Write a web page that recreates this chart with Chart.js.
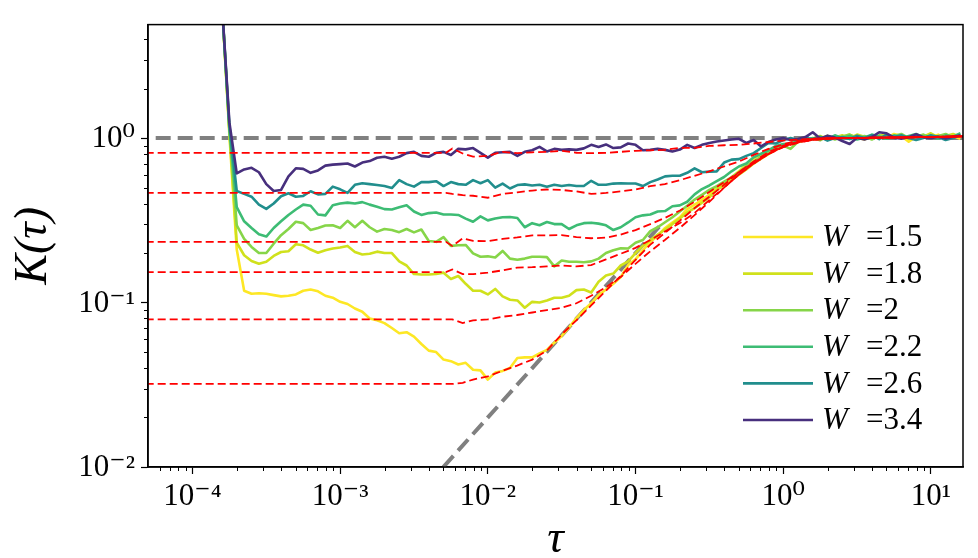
<!DOCTYPE html>
<html>
<head>
<meta charset="utf-8">
<script src="https://cdn.jsdelivr.net/npm/chart.js@4.4.1/dist/chart.umd.min.js"></script>
<style>
  html, body { margin: 0; padding: 0; background: #fff; }
</style>
</head>
<body>
<canvas id="kChart" width="978" height="558"></canvas>
<script>
// tau grid shared by the six K(tau) curves
const tau = [
  1.585e-4, 1.778e-4, 1.995e-4, 2.239e-4, 2.512e-4, 2.818e-4, 3.162e-4, 3.548e-4, 3.981e-4, 4.467e-4,
  5.012e-4, 5.623e-4, 6.310e-4, 7.079e-4, 7.943e-4, 8.913e-4, 1.000e-3, 1.122e-3, 1.259e-3, 1.413e-3,
  1.585e-3, 1.778e-3, 1.995e-3, 2.239e-3, 2.512e-3, 2.818e-3, 3.162e-3, 3.548e-3, 3.981e-3, 4.467e-3,
  5.012e-3, 5.623e-3, 6.310e-3, 7.079e-3, 7.943e-3, 8.913e-3, 1.000e-2, 1.122e-2, 1.259e-2, 1.413e-2,
  1.585e-2, 1.778e-2, 1.995e-2, 2.239e-2, 2.512e-2, 2.818e-2, 3.162e-2, 3.548e-2, 3.981e-2, 4.467e-2,
  5.012e-2, 5.623e-2, 6.310e-2, 7.079e-2, 7.943e-2, 8.913e-2, 1.000e-1, 1.122e-1, 1.259e-1, 1.413e-1,
  1.585e-1, 1.778e-1, 1.995e-1, 2.239e-1, 2.512e-1, 2.818e-1, 3.162e-1, 3.548e-1, 3.981e-1, 4.467e-1,
  5.012e-1, 5.623e-1, 6.310e-1, 7.079e-1, 7.943e-1, 8.913e-1, 1.000, 1.122, 1.259, 1.413,
  1.585, 1.778, 1.995, 2.239, 2.512, 2.818, 3.162, 3.548, 3.981, 4.467,
  5.012, 5.623, 6.310, 7.079, 7.943, 8.913, 10.00, 11.22, 12.59, 14.13,
  15.85
];

const kW15 = [
  6.5, 1.05, 0.21, 0.118, 0.113, 0.114, 0.113, 0.111, 0.109, 0.11,
  0.112, 0.118, 0.12, 0.117, 0.11, 0.107, 0.101, 0.098, 0.092, 0.088,
  0.08, 0.078, 0.075, 0.070, 0.065, 0.066, 0.062, 0.056, 0.051, 0.050,
  0.045, 0.044, 0.042, 0.043, 0.039, 0.0387, 0.034, 0.0375, 0.0384, 0.040,
  0.046, 0.0464, 0.0464, 0.049, 0.0515, 0.057, 0.0626, 0.0706, 0.0805, 0.09,
  0.099, 0.111, 0.12, 0.13, 0.143, 0.169, 0.183, 0.208, 0.234, 0.254,
  0.284, 0.307, 0.33, 0.37, 0.394, 0.422, 0.452, 0.497, 0.525, 0.578,
  0.628, 0.695, 0.75, 0.798, 0.837, 0.872, 0.91, 0.927, 0.947, 0.973,
  0.986, 1.0, 1.03, 0.99, 1.02, 1.05, 1.01, 0.98, 1.04, 1.02,
  1.0, 1.06, 1.03, 0.95, 1.02, 1.04, 1.01, 1.05, 1.0, 1.03,
  0.99
];
const kW18 = [
  6.5, 1.1, 0.231, 0.194, 0.179, 0.172, 0.177, 0.192, 0.203, 0.205,
  0.226, 0.223, 0.21, 0.201, 0.208, 0.213, 0.216, 0.221, 0.203, 0.196,
  0.198, 0.204, 0.20, 0.20, 0.178, 0.168, 0.149, 0.148, 0.148, 0.149,
  0.152, 0.139, 0.145, 0.13, 0.118, 0.118, 0.112, 0.121, 0.109, 0.104,
  0.103, 0.093, 0.101, 0.10, 0.103, 0.107, 0.107, 0.11, 0.119, 0.12,
  0.115, 0.134, 0.146, 0.15, 0.168, 0.178, 0.20, 0.221, 0.24, 0.259,
  0.278, 0.30, 0.325, 0.353, 0.375, 0.405, 0.437, 0.484, 0.518, 0.558,
  0.60, 0.645, 0.70, 0.75, 0.80, 0.85, 0.89, 0.93, 0.95, 0.975,
  0.99, 1.03, 0.98, 1.01, 1.04, 1.0, 1.05, 1.02, 0.99, 1.03,
  1.06, 1.01, 1.03, 0.99, 1.04, 1.02, 1.07, 1.01, 1.03, 1.06,
  1.02
];
const kW20 = [
  6.5, 1.12, 0.295, 0.244, 0.218, 0.20, 0.20, 0.228, 0.257, 0.28,
  0.31, 0.304, 0.276, 0.284, 0.294, 0.295, 0.284, 0.314, 0.287, 0.314,
  0.287, 0.27, 0.28, 0.276, 0.268, 0.28, 0.267, 0.278, 0.237, 0.234,
  0.25, 0.221, 0.223, 0.224, 0.199, 0.19, 0.191, 0.188, 0.206, 0.185,
  0.182, 0.185, 0.19, 0.19, 0.189, 0.166, 0.18, 0.177, 0.177, 0.176,
  0.178, 0.185, 0.20, 0.208, 0.214, 0.213, 0.231, 0.24, 0.272, 0.287,
  0.308, 0.33, 0.358, 0.388, 0.423, 0.452, 0.484, 0.511, 0.544, 0.578,
  0.619, 0.672, 0.719, 0.77, 0.82, 0.87, 0.90, 0.86, 0.95, 0.97,
  1.0, 0.97, 1.03, 0.98, 1.02, 1.05, 1.0, 1.03, 0.98, 1.04,
  1.01, 1.03, 1.06, 1.0, 1.02, 1.05, 1.0, 1.03, 1.06, 1.01,
  1.05
];
const kW22 = [
  6.5, 1.15, 0.38, 0.312, 0.284, 0.26, 0.252, 0.284, 0.312, 0.341,
  0.368, 0.394, 0.388, 0.343, 0.339, 0.39, 0.40, 0.405, 0.40, 0.408,
  0.394, 0.383, 0.37, 0.368, 0.38, 0.39, 0.358, 0.341, 0.35, 0.353,
  0.343, 0.343, 0.341, 0.324, 0.31, 0.334, 0.316, 0.324, 0.33, 0.331,
  0.327, 0.287, 0.304, 0.295, 0.309, 0.30, 0.30, 0.28, 0.295, 0.304,
  0.306, 0.302, 0.295, 0.276, 0.287, 0.307, 0.33, 0.339, 0.343, 0.358,
  0.36, 0.385, 0.39, 0.41, 0.455, 0.49, 0.515, 0.547, 0.58, 0.628,
  0.672, 0.70, 0.765, 0.803, 0.843, 0.896, 0.921, 0.927, 0.96, 0.973,
  0.993, 1.02, 0.99, 1.04, 1.0, 1.03, 0.98, 1.01, 1.05, 1.02,
  0.99, 1.04, 1.0, 1.03, 1.06, 1.01, 1.03, 0.99, 1.04, 1.02,
  1.07
];
const kW26 = [
  6.5, 1.2, 0.477, 0.458, 0.44, 0.394, 0.371, 0.40, 0.443, 0.462,
  0.44, 0.445, 0.475, 0.455, 0.458, 0.507, 0.488, 0.464, 0.52, 0.532,
  0.525, 0.518, 0.511, 0.497, 0.555, 0.525, 0.507, 0.54, 0.54, 0.547,
  0.511, 0.54, 0.525, 0.52, 0.555, 0.532, 0.555, 0.50, 0.529, 0.494,
  0.518, 0.523, 0.515, 0.52, 0.506, 0.52, 0.511, 0.518, 0.511, 0.511,
  0.55, 0.52, 0.52, 0.529, 0.532, 0.53, 0.53, 0.511, 0.54, 0.56,
  0.585, 0.59, 0.59, 0.615, 0.655, 0.62, 0.625, 0.628, 0.71, 0.74,
  0.745, 0.78, 0.81, 0.87, 0.934, 0.927, 0.973, 1.0, 0.973, 1.0,
  0.986, 1.014, 0.966, 1.0, 1.014, 0.986, 1.035, 1.0, 1.042, 0.986,
  1.049, 1.014, 1.042, 1.0, 0.973, 1.0, 1.042, 1.014, 0.973, 1.0,
  1.042
];
const kW34 = [
  6.5, 1.25, 0.61, 0.645, 0.66, 0.62, 0.525, 0.477, 0.484, 0.586,
  0.655, 0.65, 0.615, 0.636, 0.68, 0.69, 0.695, 0.70, 0.672, 0.71,
  0.725, 0.76, 0.77, 0.75, 0.77, 0.81, 0.825, 0.78, 0.77, 0.814,
  0.825, 0.79, 0.86, 0.854, 0.87, 0.814, 0.76, 0.814, 0.82, 0.825,
  0.78, 0.825, 0.843, 0.884, 0.83, 0.86, 0.848, 0.854, 0.848, 0.866,
  0.91, 0.884, 0.915, 0.87, 0.878, 0.927, 0.91, 0.843, 0.848, 0.86,
  0.848, 0.83, 0.852, 0.91, 0.87, 0.91, 0.934, 0.953, 0.966, 0.98,
  0.99, 0.934, 0.973, 0.89, 0.947, 0.98, 1.0, 0.973, 0.986, 1.014,
  1.086, 0.993, 1.035, 1.007, 0.96, 0.92, 1.004, 0.98, 1.014, 1.086,
  1.07, 1.007, 0.99, 1.014, 1.056, 1.014, 1.0, 1.02, 0.993, 1.02,
  1.037
];

// tau grid of the red dashed fits
const fitTau = [
  4e-5, 5.2e-3, 5.75e-3, 6.76e-3, 7.94e-3, 1.0e-2, 1.26e-2, 1.58e-2, 2.0e-2, 2.51e-2,
  3.16e-2, 3.98e-2, 5.01e-2, 6.31e-2, 7.94e-2, 0.1, 0.126, 0.158, 0.2, 0.251,
  0.316, 0.398, 0.501, 0.631, 0.794, 1.0, 1.26, 1.58, 2.0, 2.51,
  3.98, 6.31, 10, 16.5
];
const fitW15 = [
  0.032, 0.032, 0.032, 0.0325, 0.034, 0.0356, 0.0385, 0.0414, 0.045, 0.051,
  0.064, 0.078, 0.096, 0.118, 0.145, 0.182, 0.225, 0.265, 0.315, 0.375,
  0.44, 0.52, 0.62, 0.72, 0.82, 0.90, 0.95, 0.98, 0.995, 1.0,
  1.005, 1.01, 1.015, 1.025
];
const fitW18 = [
  0.079, 0.079, 0.079, 0.075, 0.078, 0.079, 0.082, 0.084, 0.087, 0.09,
  0.093, 0.099, 0.11, 0.124, 0.143, 0.172, 0.205, 0.24, 0.285, 0.34,
  0.41, 0.50, 0.60, 0.70, 0.80, 0.89, 0.945, 0.98, 0.993, 1.0,
  1.005, 1.01, 1.015, 1.025
];
const fitW20 = [
  0.153, 0.153, 0.159, 0.149, 0.149, 0.152, 0.157, 0.163, 0.164, 0.166,
  0.168, 0.166, 0.169, 0.183, 0.198, 0.215, 0.24, 0.27, 0.305, 0.35,
  0.42, 0.50, 0.60, 0.70, 0.80, 0.885, 0.94, 0.975, 0.99, 1.0,
  1.005, 1.01, 1.015, 1.025
];
const fitW22 = [
  0.234, 0.234, 0.221, 0.246, 0.237, 0.236, 0.244, 0.249, 0.256, 0.256,
  0.257, 0.25, 0.246, 0.248, 0.259, 0.276, 0.30, 0.327, 0.363, 0.41,
  0.47, 0.54, 0.62, 0.71, 0.80, 0.88, 0.94, 0.975, 0.99, 1.0,
  1.005, 1.01, 1.015, 1.025
];
const fitW26 = [
  0.464, 0.464, 0.458, 0.45, 0.446, 0.434, 0.458, 0.468, 0.48, 0.487,
  0.484, 0.474, 0.458, 0.464, 0.474, 0.487, 0.511, 0.525, 0.555, 0.59,
  0.628, 0.672, 0.72, 0.79, 0.86, 0.915, 0.966, 0.99, 1.0, 1.0,
  1.005, 1.01, 1.015, 1.025
];
const fitW34 = [
  0.814, 0.814, 0.864, 0.806, 0.771, 0.78, 0.825, 0.81, 0.82, 0.825,
  0.837, 0.814, 0.81, 0.814, 0.825, 0.837, 0.843, 0.848, 0.872, 0.872,
  0.896, 0.905, 0.91, 0.927, 0.947, 0.966, 0.98, 0.993, 1.0, 1.0,
  1.005, 1.01, 1.015, 1.025
];

// grey reference lines: K = 1 and K = 2 tau
const flatTau = [4e-5, 20];
const flatK = [1, 1];
const rampTau = [0.005, 0.15];
const rampK = [0.01, 0.3];

const wLabels = ['1.5', '1.8', '2', '2.2', '2.6', '3.4'];
const wColors = ['#fde725', '#d0e11c', '#86d549', '#3dbc74', '#218e8d', '#472f7d'];

const xTickValues = [1e-4, 1e-3, 1e-2, 1e-1, 1, 10];
const xTickLabels = ['10⁻⁴', '10⁻³', '10⁻²', '10⁻¹', '10⁰', '10¹'];
const yTickValues = [1e-2, 1e-1, 1];
const yTickLabels = ['10⁻²', '10⁻¹', '10⁰'];

const serif = "'Liberation Serif', 'Times New Roman', 'DejaVu Serif', serif";
Chart.defaults.font.family = serif;
Chart.defaults.color = '#000';

const pts = (xs, ys) => xs.map((x, i) => ({x: x, y: ys[i]}));

const kSeries = [kW15, kW18, kW20, kW22, kW26, kW34];
const fitSeries = [fitW15, fitW18, fitW20, fitW22, fitW26, fitW34];

const datasets = [];
kSeries.forEach((ys, i) => {
	datasets.push({
		label: 'W =' + wLabels[i],
		data: pts(tau, ys),
		borderColor: wColors[i],
		borderWidth: 2.6,
		borderJoinStyle: 'round',
		pointRadius: 0,
		tension: 0,
		order: 6 - i,
	});
});
fitSeries.forEach((ys) => {
	datasets.push({
		data: pts(fitTau, ys),
		borderColor: '#ff0000',
		borderWidth: 1.8,
		borderDash: [8, 4],
		pointRadius: 0,
		tension: 0,
		order: 0,
	});
});
datasets.push({
	data: pts(flatTau, flatK),
	borderColor: '#808080',
	borderWidth: 4,
	borderDash: [15, 7],
	pointRadius: 0,
	order: 8,
});
datasets.push({
	data: pts(rampTau, rampK),
	borderColor: '#808080',
	borderWidth: 4,
	borderDash: [15, 7],
	pointRadius: 0,
	order: 8,
});

// frame, minor ticks and the legend inside the plot
const decorations = {
	id: 'decorations',
	afterDatasetsDraw(chart) {
		const {ctx, chartArea: a, scales: {x, y}} = chart;
		ctx.save();

		// minor ticks at 2..9 x 10^k
		ctx.strokeStyle = '#000';
		ctx.lineWidth = 1;
		for (let k = -5; k <= 1; k++) {
			for (let m = 2; m <= 9; m++) {
				const v = m * Math.pow(10, k);
				if (v > x.min && v < x.max) {
					const px = Math.round(x.getPixelForValue(v)) + 0.5;
					ctx.beginPath();
					ctx.moveTo(px, a.bottom);
					ctx.lineTo(px, a.bottom + 4);
					ctx.stroke();
				}
				if (v > y.min && v < y.max) {
					const py = Math.round(y.getPixelForValue(v)) + 0.5;
					ctx.beginPath();
					ctx.moveTo(a.left, py);
					ctx.lineTo(a.left - 4, py);
					ctx.stroke();
				}
			}
		}

		// box around the axes
		ctx.lineWidth = 1.5;
		ctx.strokeRect(a.left, a.top, a.right - a.left, a.bottom - a.top);

		// legend
		const x0 = a.right - 220;
		const x1 = a.right - 150;
		const tx = a.right - 141;
		const top = a.bottom - 230;
		const step = 36.6;
		ctx.textBaseline = 'middle';
		wLabels.forEach((w, i) => {
			const yy = top + i * step;
			ctx.strokeStyle = wColors[i];
			ctx.lineWidth = 2.6;
			ctx.beginPath();
			ctx.moveTo(x0, yy);
			ctx.lineTo(x1, yy);
			ctx.stroke();
			ctx.fillStyle = '#000';
			ctx.font = 'italic 31px ' + serif;
			ctx.fillText('W', tx, yy + 1);
			ctx.font = '31px ' + serif;
			ctx.fillText('=' + w, tx + 44, yy + 1);
		});
		ctx.restore();
	}
};

new Chart(document.getElementById('kChart'), {
	type: 'line',
	data: {datasets: datasets},
	options: {
		responsive: false,
		animation: false,
		devicePixelRatio: 1,
		layout: {padding: {top: 15, right: 15, left: 0, bottom: 0}},
		plugins: {
			legend: {display: false},
			tooltip: {enabled: false},
		},
		scales: {
			x: {
				type: 'logarithmic',
				min: 5e-5,
				max: 16.5,
				afterFit(scale) { scale.height = 91; },
				afterBuildTicks(scale) { scale.ticks = xTickValues.map(v => ({value: v})); },
				ticks: {
					autoSkip: false,
					maxRotation: 0,
					padding: 4,
					font: {size: 31},
					color: '#000',
					callback: (value, index) => xTickLabels[index],
				},
				grid: {drawOnChartArea: false, drawTicks: true, tickLength: 7, tickWidth: 1.2, tickColor: '#000'},
				border: {display: true, color: '#000', width: 1.5},
				title: {
					display: true,
					text: 'τ',
					color: '#000',
					font: {size: 46, style: 'italic', lineHeight: 0.8},
					padding: {top: 0, bottom: 0},
				},
			},
			y: {
				type: 'logarithmic',
				min: 0.01,
				max: 4.9,
				afterFit(scale) { scale.width = 148; },
				afterBuildTicks(scale) { scale.ticks = yTickValues.map(v => ({value: v})); },
				ticks: {
					autoSkip: false,
					padding: 6,
					labelOffset: 1,
					font: {size: 31},
					color: '#000',
					callback: (value, index) => yTickLabels[index],
				},
				grid: {drawOnChartArea: false, drawTicks: true, tickLength: 7, tickWidth: 1.2, tickColor: '#000'},
				border: {display: true, color: '#000', width: 1.5},
				title: {
					display: true,
					text: 'K(τ)',
					color: '#000',
					font: {size: 46, style: 'italic', lineHeight: 0.8},
					padding: {top: 16, bottom: 0},
				},
			},
		},
	},
	plugins: [decorations],
});
</script>
</body>
</html>
